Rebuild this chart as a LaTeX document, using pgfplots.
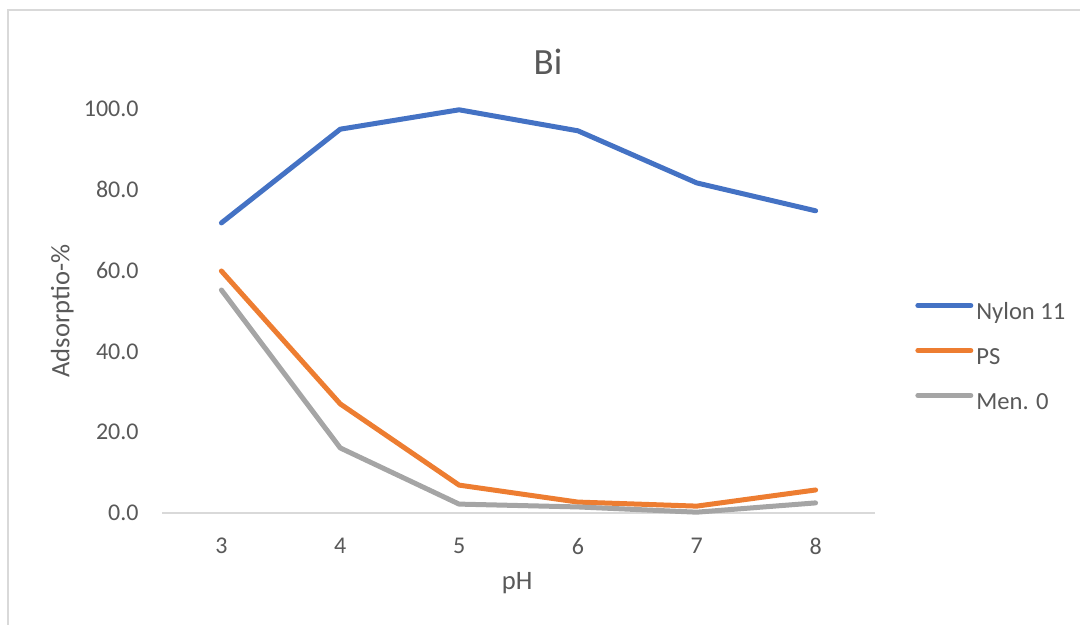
\documentclass[border=0pt]{standalone}
\usepackage{pgfplots}
\pgfplotsset{compat=1.18}
\usepackage{fontspec}
\setmainfont{Carlito}
\definecolor{cblue}{HTML}{4472C4}
\definecolor{corange}{HTML}{ED7D31}
\definecolor{cgray}{HTML}{A5A5A5}
\definecolor{ctext}{HTML}{595959}
\definecolor{cline}{HTML}{D9D9D9}
\begin{document}
\begin{tikzpicture}[x=1pt,y=1pt]
\useasboundingbox (0,0) rectangle (540,312.5);
\draw[cline,line width=0.6pt] (4,0) -- (4,307.5) -- (540,307.5);
\node[font=\fontsize{18.5}{20}\selectfont, text=ctext, anchor=base] at (274,275) {Bi};
\begin{axis}[
  at={(81pt,56pt)}, anchor=south west,
  scale only axis, width=356.5pt, height=202pt,
  xmin=2.5, xmax=8.5, ymin=0, ymax=100,
  xtick={3,4,5,6,7,8}, ytick={0,20,40,60,80,100},
  axis x line*=bottom, axis y line*=left,
  x axis line style={cline, line width=0.8pt, -},
  y axis line style={draw=none},
  major tick length=0pt,
  tick style={draw=none},
  /pgf/number format/assume math mode=true,
  yticklabel={\pgfmathprintnumber[fixed,fixed zerofill,precision=1]{\tick}},
  xticklabel style={font=\fontsize{12}{14}\selectfont, text=ctext, anchor=center, inner sep=0pt, yshift=-16.5pt},
  yticklabel style={font=\fontsize{12}{14}\selectfont, text=ctext, anchor=east, inner sep=0pt, xshift=-11.5pt},
  xlabel={pH}, ylabel={Adsorptio-\%},
  xlabel style={font=\fontsize{13.3}{15}\selectfont, text=ctext, at={(axis description cs:0.498,-0.173)}, anchor=center, inner sep=0pt},
  ylabel style={font=\fontsize{13.3}{15}\selectfont, text=ctext, at={(axis description cs:-0.14,0.5)}, anchor=center, rotate=0, inner sep=0pt},
  every axis plot/.append style={line width=2.5pt, line cap=round, line join=round},
  legend style={at={(axis description cs:1.056,0.523)}, anchor=north west, draw=none, fill=none, inner sep=0pt, row sep=11.5pt, column sep=1.5pt,
    font=\fontsize{12.3}{14}\selectfont, text=ctext,
    nodes={inner sep=0pt, text height=8.5pt, text depth=2.5pt}},
  legend cell align=left,
  legend image code/.code={\draw[#1] (0pt,3.8pt) -- (26.5pt,3.8pt);},
  clip=false,
]
\addplot[cblue] coordinates {(3,71.8) (4,95.0) (5,99.8) (6,94.6) (7,81.7) (8,74.8)};
\addplot[corange] coordinates {(3,59.9) (4,27.0) (5,6.9) (6,2.7) (7,1.7) (8,5.7)};
\addplot[cgray] coordinates {(3,55.2) (4,16.1) (5,2.2) (6,1.5) (7,0.2) (8,2.5)};
\legend{Nylon 11, PS, Men. 0}
\end{axis}
\end{tikzpicture}
\end{document}
